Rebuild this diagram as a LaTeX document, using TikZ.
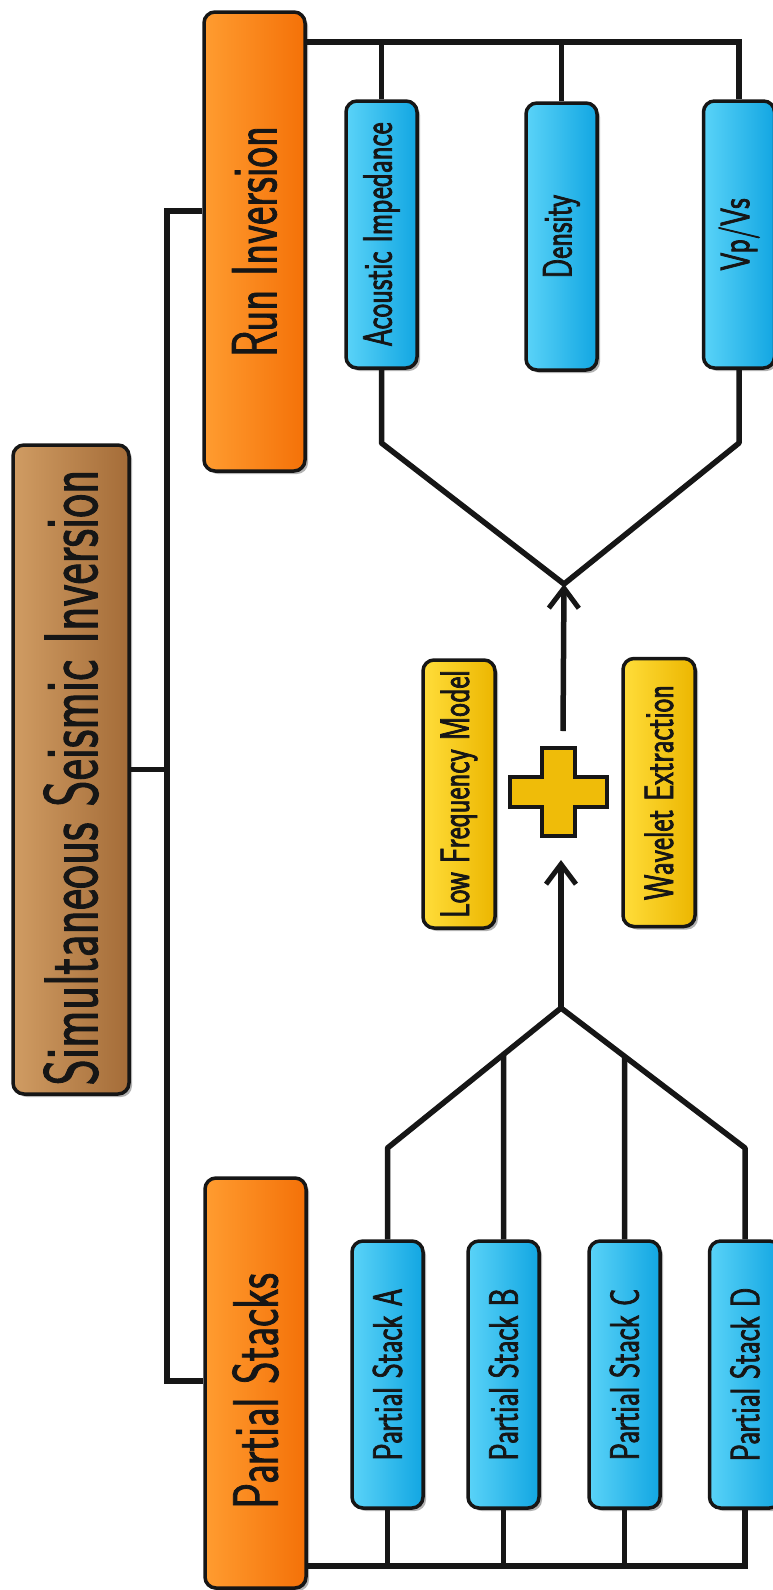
\documentclass[tikz,border=0pt]{standalone}
\usepackage{graphicx}
\usepackage{fontspec}
\setmainfont{Latin Modern Sans}[FakeStretch=0.68, FakeBold=1.2]
\newfontfamily\titlefam{Latin Modern Sans}[FakeStretch=0.665, FakeBold=1.2]
\newfontfamily\smallfam{Latin Modern Sans}[FakeStretch=0.70, FakeBold=1.8]
\usetikzlibrary{arrows.meta,shadows,intersections}
\definecolor{brownL}{HTML}{D09C63}
\definecolor{brownD}{HTML}{A46C38}
\definecolor{orangeL}{HTML}{FF9C30}
\definecolor{orangeD}{HTML}{F47108}
\definecolor{blueL}{HTML}{5AD3F8}
\definecolor{blueD}{HTML}{12A6E2}
\definecolor{yellowL}{HTML}{FFDD3A}
\definecolor{yellowD}{HTML}{ECB600}
\definecolor{ink}{HTML}{161616}
\begin{document}
\begin{tikzpicture}[x=1pt,y=-1pt,
  box/.style={draw=ink, line width=3.5pt, rounded corners=11pt, inner sep=0pt, text=ink,
    drop shadow={shadow xshift=3pt, shadow yshift=-3pt, opacity=0.3, fill=black}},
  titlebox/.style={box, left color=brownL, right color=brownD, minimum width=116pt, minimum height=649pt,
    font=\titlefam\fontsize{76}{76}\selectfont},
  orangebox/.style={box, left color=orangeL, right color=orangeD, minimum width=101pt,
    font=\fontsize{64}{64}\selectfont},
  bluebox/.style={box, left color=blueL, right color=blueD, minimum width=71pt, minimum height=267pt,
    font=\smallfam\fontsize{41}{41}\selectfont},
  yellowbox/.style={box, left color=yellowL, right color=yellowD, minimum width=72pt, minimum height=268pt,
    font=\smallfam\fontsize{41}{41}\selectfont},
  conn/.style={draw=ink, line width=5.5pt},
  arr/.style={conn, -{Straight Barb[length=20pt,width=30pt,line width=5pt]}}
]
\useasboundingbox (0,0) rectangle (773,1590);
\fill[white] (0,0) rectangle (773,1590);

% nodes
\node[titlebox] (sim) at (71,769.5) {\rotatebox{90}{Simultaneous Seismic Inversion\hspace*{16pt}}};
\node[orangebox, minimum height=459pt] (run) at (254.5,241.5) {\rotatebox{90}{Run Inversion}};
\node[orangebox, minimum height=410pt] (ps) at (255.5,1383) {\rotatebox{90}{Partial Stacks\hspace*{16pt}}};

\node[bluebox] (ai) at (381.5,234.5) {\rotatebox{90}{Acoustic Impedance}};
\node[bluebox] (den) at (561.5,236.5) {\rotatebox{90}{Density}};
\node[bluebox] (vp) at (739,234.5) {\rotatebox{90}{Vp/Vs}};

\node[yellowbox] (lfm) at (459,794) {\rotatebox{90}{Low Frequency Model}};
\node[yellowbox] (we) at (659,792.5) {\rotatebox{90}{Wavelet Extraction}};

\node[bluebox] (psA) at (387.5,1374.5) {\rotatebox{90}{Partial Stack A}};
\node[bluebox] (psB) at (503.5,1374.5) {\rotatebox{90}{Partial Stack B}};
\node[bluebox] (psC) at (624.5,1374.5) {\rotatebox{90}{Partial Stack C}};
\node[bluebox] (psD) at (745,1374.5) {\rotatebox{90}{Partial Stack D}};

% plus sign
\draw[draw=ink, line width=3.5pt, fill=yellowD!85!yellowL, line join=miter]
  (542,748) -- (575,748) -- (575,777) -- (607,777) -- (607,807) -- (575,807) -- (575,836)
  -- (542,836) -- (542,807) -- (510,807) -- (510,777) -- (542,777) -- cycle;

% coordinates
\coordinate (sptop) at (167,211);
\coordinate (spbot) at (167,1381);
\coordinate (tb) at (0,42);
\coordinate (bb) at (0,1566);
\coordinate (fanT) at (0,443);
\coordinate (fanB) at (0,1148);
\coordinate (topjoin) at (564,584);
\coordinate (botjoin) at (561,1008);
\coordinate (plustop) at (563,731);
\coordinate (plusbot) at (561,860);

% left tree
\draw[conn] (sptop -| run.west) -- (sptop) -- (spbot) -- (spbot -| ps.west);
\draw[conn] (sim.east) -- (sim.east -| sptop);

% top bus
\draw[conn] (run.east |- tb) -- (vp.north |- tb) -- (vp.north);
\draw[conn] (ai.north |- tb) -- (ai.north);
\draw[conn] (den.north |- tb) -- (den.north);

% bottom bus
\draw[conn] (ps.east |- bb) -- (psD.south |- bb) -- (psD.south);
\draw[conn] (psA.south) -- (psA.south |- bb);
\draw[conn] (psB.south) -- (psB.south |- bb);
\draw[conn] (psC.south) -- (psC.south |- bb);

% top fan
\draw[conn, line join=round] (ai.south) -- (ai.south |- fanT) -- (topjoin) -- (vp.south |- fanT) -- (vp.south);
\draw[arr] (plustop) -- (topjoin);

% bottom fan
\draw[conn, line join=round] (psA.north) -- (psA.north |- fanB) -- (botjoin) -- (psD.north |- fanB) -- (psD.north);
\path[name path=diagA] (psA.north |- fanB) -- (botjoin);
\path[name path=diagD] (psD.north |- fanB) -- (botjoin);
\path[name path=vB] (psB.north) -- ++(0,-300);
\path[name path=vC] (psC.north) -- ++(0,-300);
\draw[conn, name intersections={of=diagA and vB, by=jB}] (psB.north) -- (jB);
\draw[conn, name intersections={of=diagD and vC, by=jC}] (psC.north) -- (jC);
\draw[arr] (botjoin) -- (plusbot);
\end{tikzpicture}
\end{document}
